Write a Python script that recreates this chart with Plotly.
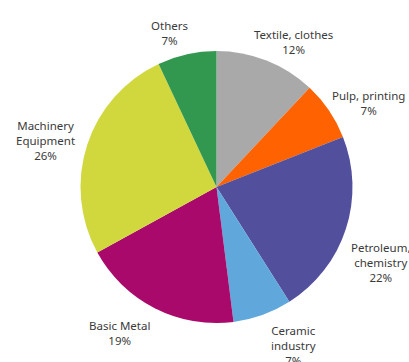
import plotly.graph_objects as go

# Industry shares, clockwise from 12 o'clock
sectors = ["Textile, clothes", "Pulp, printing", "Petroleum,<br>chemistry",
           "Ceramic<br>industry", "Basic Metal", "Machinery<br>Equipment", "Others"]
shares = [12, 7, 22, 7, 19, 26, 7]
colors = ["#A9A9A9", "#FF6200", "#524F9C", "#60A8DC", "#A8096A", "#D1D83E", "#33984F"]

W, H = 409, 362
cx, cy, r = 216.5, 187, 136

# label centres in pixels (x from left, y from top), one per sector
label_xy = [(293, 42), (368, 103), (380, 262), (293, 345),
            (119, 333), (45, 140), (169, 33)]

fig = go.Figure(go.Pie(
    labels=sectors,
    values=shares,
    sort=False,
    direction="clockwise",
    rotation=0,
    marker=dict(colors=colors, line=dict(width=0)),
    textinfo="none",
    hoverinfo="skip",
    showlegend=False,
    domain=dict(x=[(cx - r) / W, (cx + r) / W],
                y=[(H - cy - r) / H, (H - cy + r) / H]),
))

total = sum(shares)
for name, val, (lx, ly) in zip(sectors, shares, label_xy):
    fig.add_annotation(
        x=lx / W, y=1 - ly / H, xref="paper", yref="paper",
        text=f"{name}<br>{round(100 * val / total)}%",
        showarrow=False, xanchor="center", yanchor="middle", align="center",
        font=dict(family="Noto Sans", size=11.5, color="#3a3a3a"),
    )

fig.update_layout(
    width=W, height=H,
    margin=dict(l=0, r=0, t=0, b=0),
    paper_bgcolor="white",
    plot_bgcolor="white",
)

fig.write_html("out.html")
